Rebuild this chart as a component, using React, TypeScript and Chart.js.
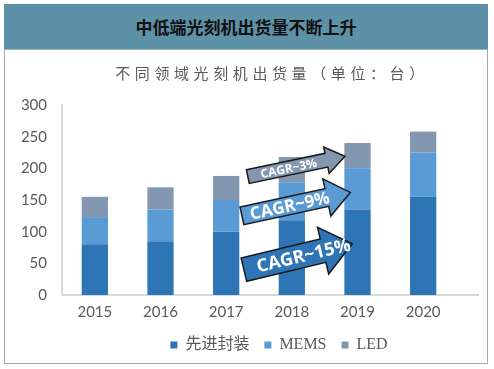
import React, { useEffect, useRef } from "react";
import { Chart, registerables } from "chart.js";

Chart.register(...registerables);

const years = ["2015", "2016", "2017", "2018", "2019", "2020"];
const advancedPackaging = [80, 85, 100, 118, 135, 155];
const mems = [43, 50, 50, 60, 65, 70];
const led = [32, 35, 38, 40, 40, 33];
const seriesNames = ["先进封装", "MEMS", "LED"];
const seriesColors = ["#2E75B6", "#5B9BD5", "#8497B0"];
const yMax = 300;
const yStep = 50;
const chartTitle = "中低端光刻机出货量不断上升";
const chartSubtitle = "不同领域光刻机出货量（单位：台）";
const cagrLabels = ["CAGR~15%", "CAGR~9%", "CAGR~3%"];
// arrow anchors in data units: [category index, value]
const arrowTails = [[2.27, 40], [2.24, 125], [2.33, 187]];
const arrowTips = [[3.92, 81], [3.89, 162], [3.81, 219]];

const LEGEND_SHIFT = 51;

function drawArrow(ctx: CanvasRenderingContext2D, x0: number, y0: number, x1: number, y1: number,
  body: number, head: number, headLen: number, fill: string, text: string, font: string, t: number) {
  const a = Math.atan2(y1 - y0, x1 - x0);
  const len = Math.hypot(x1 - x0, y1 - y0);
  ctx.save();
  ctx.translate(x0, y0);
  ctx.rotate(a);
  ctx.beginPath();
  ctx.moveTo(0, -body / 2);
  ctx.lineTo(len - headLen, -body / 2);
  ctx.lineTo(len - headLen, -head / 2);
  ctx.lineTo(len, 0);
  ctx.lineTo(len - headLen, head / 2);
  ctx.lineTo(len - headLen, body / 2);
  ctx.lineTo(0, body / 2);
  ctx.closePath();
  ctx.fillStyle = fill;
  ctx.fill();
  ctx.lineWidth = 1.5;
  ctx.strokeStyle = "#1a1a1a";
  ctx.lineJoin = "miter";
  ctx.stroke();
  ctx.fillStyle = "#ffffff";
  ctx.font = font;
  ctx.textAlign = "center";
  ctx.textBaseline = "middle";
  ctx.fillText(text, len * t, 1);
  ctx.restore();
}

const decorPlugin = {
  id: "decor",
  afterLayout(chart: any) {
    const lg = chart.legend;
    if (lg) {
      lg.left += LEGEND_SHIFT;
      lg.right += LEGEND_SHIFT;
    }
  },
  afterDraw(chart: any) {
    const ctx = chart.ctx as CanvasRenderingContext2D;
    const xs = chart.scales.x;
    const ys = chart.scales.y;
    const area = chart.chartArea;
    ctx.save();
    ctx.strokeStyle = "#d9d9d9";
    ctx.lineWidth = 2;
    ctx.beginPath();
    ctx.moveTo(area.right - 1, ys.getPixelForValue(0));
    ctx.lineTo(area.right + 23, ys.getPixelForValue(0));
    ctx.stroke();
    ctx.restore();

    const px = (v: number) => xs.getPixelForValue(0) + v * (xs.getPixelForValue(1) - xs.getPixelForValue(0));
    const specs = [
      { body: 24, head: 48, hl: 30, font: "bold 18px 'Open Sans'", t: 0.55 },
      { body: 18, head: 38, hl: 24, font: "bold 17px 'Open Sans'", t: 0.44 },
      { body: 14, head: 27, hl: 19, font: "bold 12px 'Open Sans'", t: 0.42 },
    ];
    for (let i = 0; i < 3; i++) {
      const s = specs[i];
      drawArrow(ctx,
        px(arrowTails[i][0]), ys.getPixelForValue(arrowTails[i][1]),
        px(arrowTips[i][0]), ys.getPixelForValue(arrowTips[i][1]),
        s.body, s.head, s.hl, seriesColors[i], cagrLabels[i], s.font, s.t);
    }
  },
};

export default function App() {
  const ref = useRef<HTMLCanvasElement | null>(null);
  useEffect(() => {
    if (!ref.current) return;
    const chart = new Chart(ref.current, {
      type: "bar",
      data: {
        labels: years,
        datasets: [
          { label: seriesNames[0], data: advancedPackaging, backgroundColor: seriesColors[0] },
          { label: seriesNames[1], data: mems, backgroundColor: seriesColors[1] },
          { label: seriesNames[2], data: led, backgroundColor: seriesColors[2] },
        ],
      },
      options: {
        responsive: false,
        animation: false,
        layout: { padding: { top: 105, right: 38, bottom: 6, left: 0 } },
        datasets: { bar: { barPercentage: 0.4, categoryPercentage: 1 } },
        plugins: {
          legend: {
            position: "bottom",
            labels: {
              boxWidth: 7,
              boxHeight: 7,
              padding: 15,
              color: "#595959",
              font: { family: "'Liberation Serif', 'Noto Sans CJK SC'", size: 16 },
            },
          },
          tooltip: { enabled: false },
          title: { display: false },
        },
        scales: {
          x: {
            stacked: true,
            grid: { display: false, drawTicks: false },
            border: { display: true, color: "#d9d9d9", width: 2 },
            ticks: { color: "#595959", padding: 8, font: { family: "Lato", size: 15 } },
            afterFit: (s: any) => { s.height = 27; },
          },
          y: {
            stacked: true,
            min: 0,
            max: yMax,
            grid: { display: false, drawTicks: false },
            border: { display: true, color: "#d9d9d9", width: 2 },
            ticks: { stepSize: yStep, color: "#595959", padding: 15, font: { family: "Lato", size: 15 } },
            afterFit: (s: any) => { s.width = 62; },
          },
        },
      },
      plugins: [decorPlugin],
    } as any);
    return () => chart.destroy();
  }, []);

  return (
    <div style={{ position: "fixed", left: 0, top: 0, width: 494, height: 369, background: "#fff", overflow: "hidden" }}>
      <div style={{ position: "absolute", left: 4, top: 4, width: 484, height: 360, boxSizing: "border-box", border: "1px solid #a6a6a6" }} />
      <canvas ref={ref} width={494} height={369} style={{ position: "absolute", left: 0, top: 0, width: 494, height: 369 }} />
      <div style={{
        position: "absolute", left: 4, top: 4, width: 484, height: 46, boxSizing: "border-box",
        background: "#5d91a7", borderBottom: "1px solid #9ab3c0",
        display: "flex", alignItems: "center", justifyContent: "center",
        fontFamily: "'Noto Sans CJK SC'", fontWeight: 700, fontSize: 17, color: "#111",
      }}>{chartTitle}</div>
      <div style={{
        position: "absolute", left: 2, top: 63, width: 540, height: 20, lineHeight: "20px", textAlign: "center",
        fontFamily: "'Noto Sans CJK SC'", fontSize: 15, color: "#595959", letterSpacing: "4.6px", whiteSpace: "nowrap",
      }}>{chartSubtitle}</div>
    </div>
  );
}
